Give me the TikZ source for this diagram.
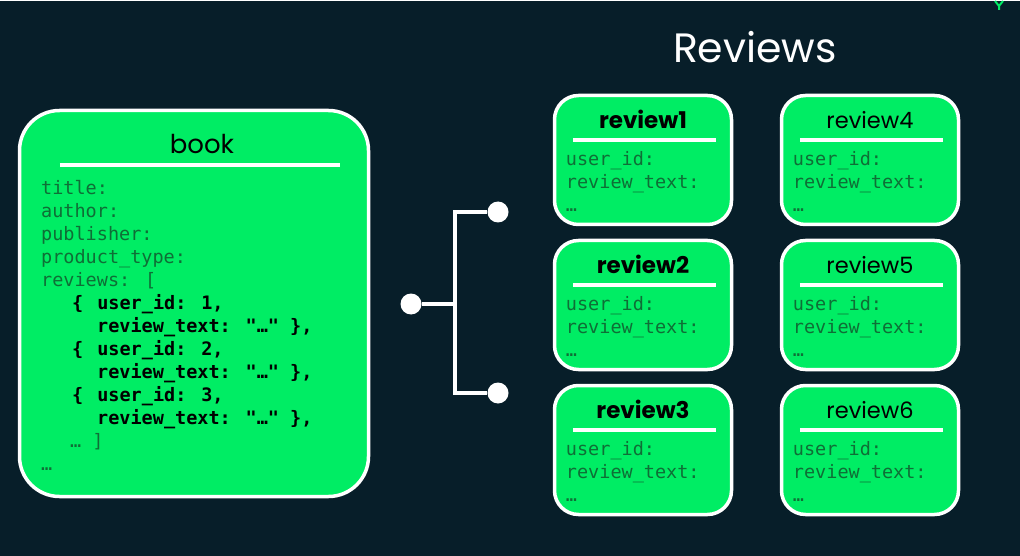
\documentclass[tikz,border=0pt]{standalone}
\usepackage{fontspec}
\usepackage{xcolor}
\usetikzlibrary{positioning,calc}
\newfontfamily\headfont{Poppins}
\newfontfamily\codefont{DejaVu Sans Mono}
\definecolor{navy}{HTML}{071E29}
\definecolor{leaf}{HTML}{00ED64}
\definecolor{dimgreen}{HTML}{0F6E36}

\begin{document}
\begin{tikzpicture}[
  x=1pt, y=-1pt,
  card/.style={draw=white,fill=leaf,line width=3.5pt,rounded corners=24pt,minimum width=177pt,minimum height=129pt},
  rule/.style={draw=white,line width=4pt},
  fields/.style={align=left,inner sep=0pt,text=dimgreen,font=\codefont\fontsize{18.5}{23}\selectfont},
  picked/.style={font=\headfont\bfseries\fontsize{23}{27}\selectfont},
  other/.style={font=\headfont\fontsize{22.5}{26}\selectfont},
  dot/.style={circle,fill=white,inner sep=0pt,minimum size=21pt},
  link/.style={draw=white,line width=4pt}
]
\fill[navy] (0,0) rectangle (1020,555);
\draw[leaf,line width=2pt] (995,0) -- (999,5) -- (1003,0) (999,5) -- (999,9);

% the book document
\node[card,minimum width=349pt,minimum height=386pt,rounded corners=40pt] (book) at (194,302.5) {};
\node[font=\headfont\fontsize{26}{30}\selectfont] (booktitle) at (202,143) {book};
\draw[rule] ([xshift=42pt,yshift=-56pt]book.north west) -- ++(280,0);
\node[fields,anchor=north west] (bookfields) at (41,179) {title:\\
  author:\\
  publisher:\\
  product\_type:\\
  reviews: [\\
  \hspace*{31pt}{\color{black}\bfseries\{\hspace*{14pt}user\_id: 1,}\\
  \hspace*{56pt}{\color{black}\bfseries review\_text: "…" \},}\\
  \hspace*{31pt}{\color{black}\bfseries\{\hspace*{14pt}user\_id: 2,}\\
  \hspace*{56pt}{\color{black}\bfseries review\_text: "…" \},}\\
  \hspace*{31pt}{\color{black}\bfseries\{\hspace*{14pt}user\_id: 3,}\\
  \hspace*{56pt}{\color{black}\bfseries review\_text: "…" \},}\\
  \hspace*{29pt}… ]\\
  …};

% the review collection
\node[font=\headfont\fontsize{41}{48}\selectfont,text=white] (heading) at (755,46) {Reviews};
\foreach \n/\x/\y/\kind in {1/553/93/picked,2/553/238/picked,3/553/383/picked,
                            4/780/93/other,5/780/238/other,6/780/383/other}{
  \node[card] (rv\n) at ({\x+90},{\y+66}) {};
  \node[\kind] (rt\n) at ([yshift=-26pt]rv\n.north) {review\n};
  \draw[rule] ([xshift=20pt,yshift=-46pt]rv\n.north west) -- ++(143,0);
  \node[fields,anchor=north west] (rf\n) at ([xshift=13pt,yshift=-57pt]rv\n.north west) {user\_id:\\review\_text:\\…};
}

% splitting connector
\node[dot] (hub) at (411,303) {};
\node[dot] (tip1) at (498,211) {};
\node[dot] (tip2) at (498,392) {};
\coordinate (fork) at (455,303);
\draw[link] (hub) -- (fork);
\draw[link] (tip1) -| (fork) |- (tip2);
\end{tikzpicture}
\end{document}
